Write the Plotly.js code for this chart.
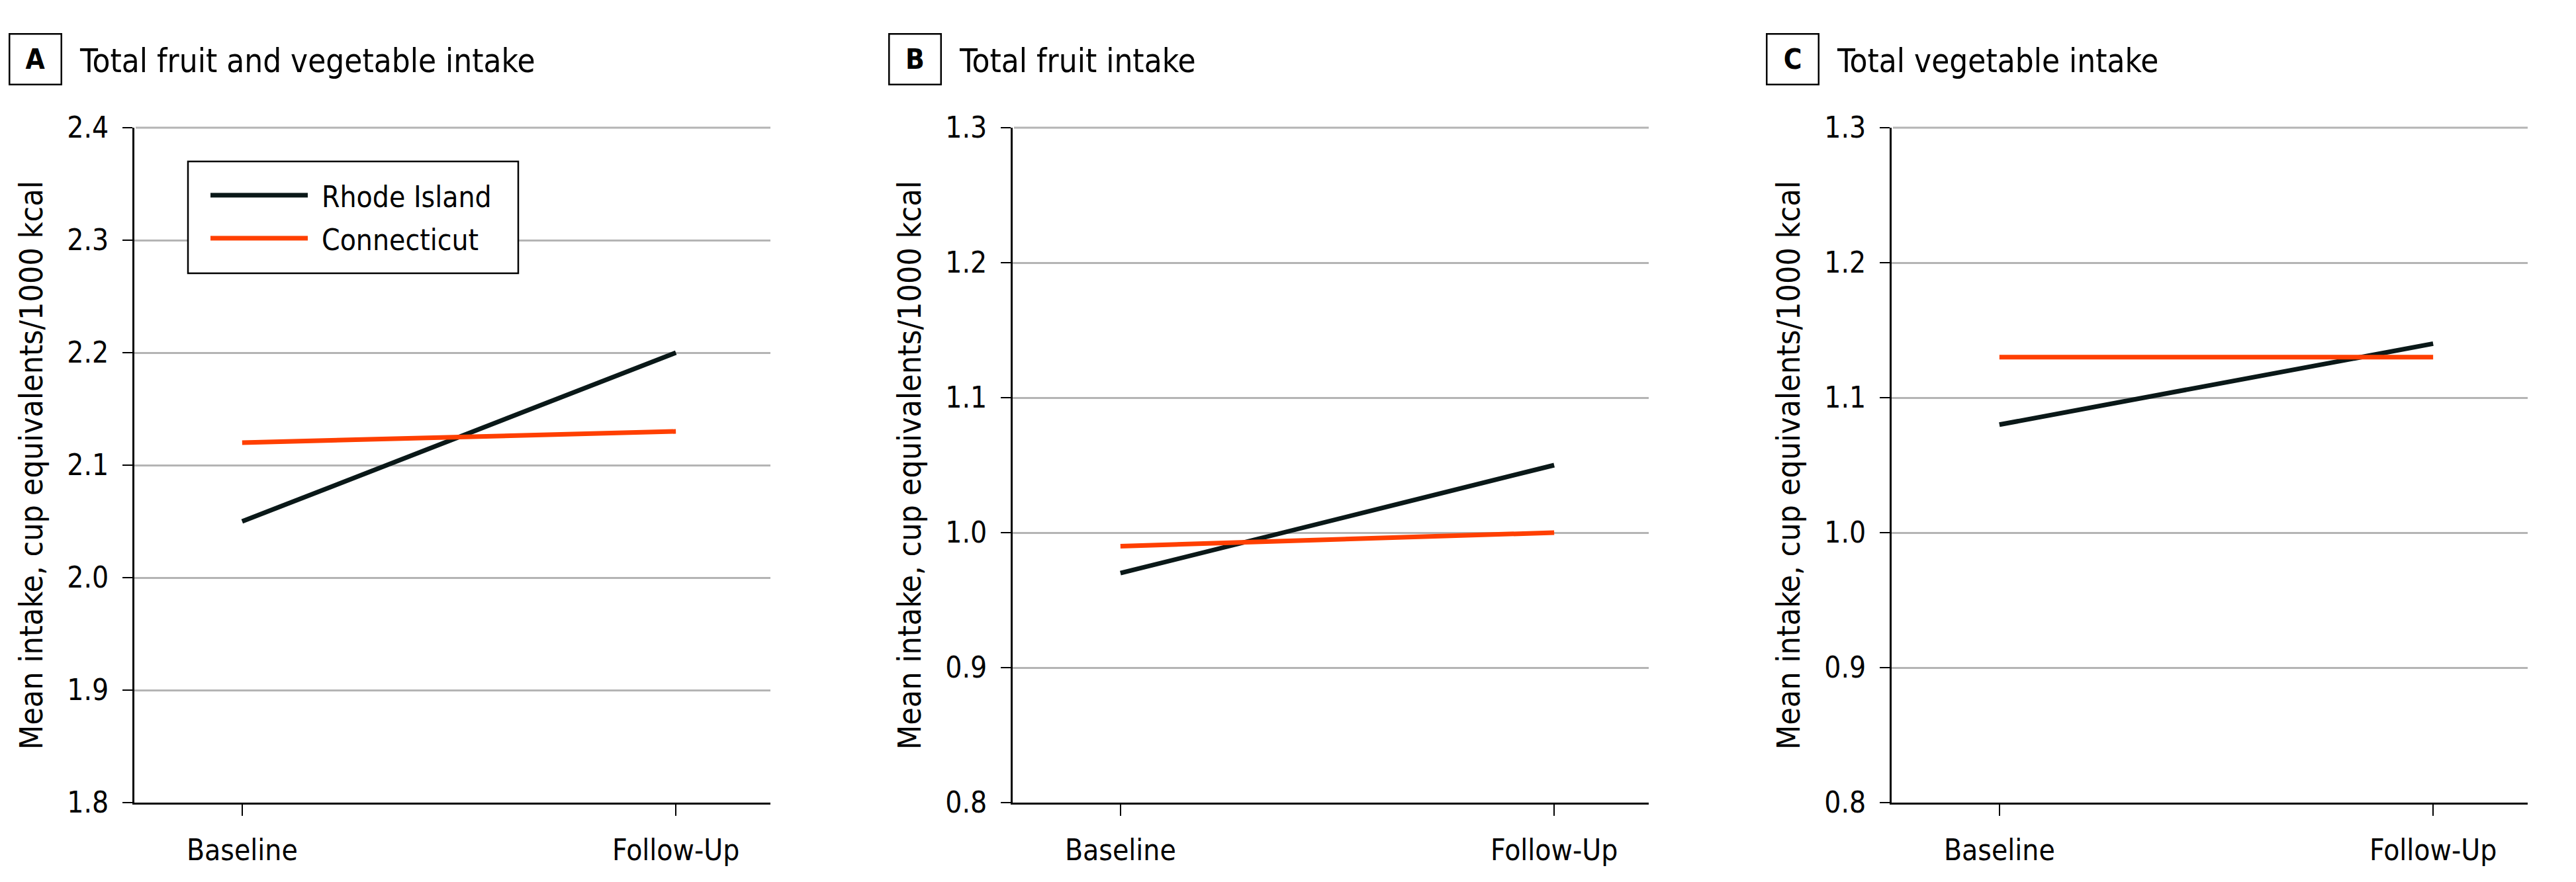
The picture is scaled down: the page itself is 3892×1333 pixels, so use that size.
<!DOCTYPE html>
<html>
<head>
<meta charset="utf-8">
<script src="https://cdn.plot.ly/plotly-3.0.1.min.js"></script>
<style>
  html, body { margin: 0; padding: 0; background: #ffffff; }
  #chart { width: 3892px; height: 1333px; }
</style>
</head>
<body>
<div id="chart"></div>
<script>
// Time points on the x axis
const categories = ['Baseline', 'Follow-Up'];

// Series names
const seriesNames = ['Rhode Island', 'Connecticut'];

// Panel letters and titles
const panelLetters = ['A', 'B', 'C'];
const panelTitles = ['Total fruit and vegetable intake', 'Total fruit intake', 'Total vegetable intake'];

// Mean intake, cup equivalents/1000 kcal
const riTotal = [2.05, 2.20];
const ctTotal = [2.12, 2.13];
const riFruit = [0.97, 1.05];
const ctFruit = [0.99, 1.00];
const riVeg = [1.08, 1.14];
const ctVeg = [1.13, 1.13];

// Y tick values for each panel
const totalTicks = [1.8, 1.9, 2.0, 2.1, 2.2, 2.3, 2.4];
const fruitTicks = [0.8, 0.9, 1.0, 1.1, 1.2, 1.3];
const vegTicks = [0.8, 0.9, 1.0, 1.1, 1.2, 1.3];

const yTitle = 'Mean intake, cup equivalents/1000 kcal';

// ---- styling ----
const W = 3892, H = 1333;
const FONT = '"DejaVu Sans Condensed", "DejaVu Sans", sans-serif';
const RI_COLOR = '#0a1818';
const CT_COLOR = '#ff3f00';
const GRID = '#b4b4b4';

const px = x => x / W;
const py = y => 1 - y / H;

// plot-area pixel boxes for each panel
const plotLeft = [203, 1530, 2858];
const plotWidth = 961;
const plotTop = 193, plotBottom = 1213;

const riData = [riTotal, riFruit, riVeg];
const ctData = [ctTotal, ctFruit, ctVeg];
const tickSets = [totalTicks, fruitTicks, vegTicks];

const traces = [];
const layout = {
  width: W, height: H,
  margin: {l: 0, r: 0, t: 0, b: 0},
  paper_bgcolor: '#ffffff',
  plot_bgcolor: '#ffffff',
  showlegend: false,
  font: {family: FONT, size: 44, color: '#000000'},
  annotations: [],
  shapes: []
};

for (let i = 0; i < 3; i++) {
  const s = i === 0 ? '' : String(i + 1);
  const xa = 'x' + s, ya = 'y' + s;

  traces.push({
    x: categories, y: riData[i], xaxis: xa, yaxis: ya,
    type: 'scatter', mode: 'lines', name: seriesNames[0],
    line: {color: RI_COLOR, width: 7}, hoverinfo: 'x+y+name'
  });
  traces.push({
    x: categories, y: ctData[i], xaxis: xa, yaxis: ya,
    type: 'scatter', mode: 'lines', name: seriesNames[1],
    line: {color: CT_COLOR, width: 7}, hoverinfo: 'x+y+name'
  });

  const ticks = tickSets[i];
  layout['xaxis' + s] = {
    domain: [px(plotLeft[i]), px(plotLeft[i] + plotWidth)],
    anchor: ya,
    type: 'category',
    range: [-0.2485, 1.218],
    showgrid: false, zeroline: false,
    showline: true, linecolor: '#000000', linewidth: 3,
    ticks: 'outside', ticklen: 17, tickwidth: 2, tickcolor: '#000000',
    ticklabelstandoff: 14,
    tickfont: {family: FONT, size: 44, color: '#000000'},
    fixedrange: true
  };
  layout['yaxis' + s] = {
    domain: [py(plotBottom), py(plotTop)],
    anchor: xa,
    range: [ticks[0], ticks[ticks.length - 1]],
    tickvals: ticks,
    tickformat: '.1f',
    showgrid: true, gridcolor: GRID, gridwidth: 3,
    zeroline: false,
    showline: true, linecolor: '#000000', linewidth: 3,
    ticks: 'outside', ticklen: 15, tickwidth: 2, tickcolor: '#000000',
    ticklabelstandoff: 12,
    tickfont: {family: FONT, size: 44, color: '#000000'},
    fixedrange: true
  };

  // gridline along the top edge of each plot area
  layout.shapes.push({
    type: 'line', xref: 'paper', yref: 'paper',
    x0: px(plotLeft[i] + 2), x1: px(plotLeft[i] + plotWidth), y0: py(plotTop), y1: py(plotTop),
    line: {color: GRID, width: 3}, layer: 'above'
  });

  // rotated y-axis title
  layout.annotations.push({
    xref: 'paper', yref: 'paper',
    x: px(plotLeft[i] - 156), y: py((plotTop + plotBottom) / 2),
    xanchor: 'center', yanchor: 'middle',
    text: yTitle, textangle: -90, showarrow: false,
    font: {family: FONT, size: 48, color: '#000000'}
  });

  // boxed panel letter
  const boxLeft = [16, 1345, 2671][i];
  layout.annotations.push({
    xref: 'paper', yref: 'paper',
    x: px(boxLeft + 37), y: py(89),
    xanchor: 'center', yanchor: 'middle',
    text: '<b>' + panelLetters[i] + '</b>', showarrow: false,
    width: 76, height: 74, borderpad: 0,
    bordercolor: '#000000', borderwidth: 2.5,
    font: {family: FONT, size: 42, color: '#000000'}
  });

  // panel title
  layout.annotations.push({
    xref: 'paper', yref: 'paper',
    x: px(boxLeft + 102), y: py(92),
    xanchor: 'left', yanchor: 'middle',
    text: panelTitles[i], showarrow: false,
    font: {family: FONT, size: 49, color: '#000000'}
  });
}

// legend box drawn in panel A
const legLeft = 284, legRight = 783, legTop = 244, legBottom = 413;
layout.shapes.push({
  type: 'rect', xref: 'paper', yref: 'paper',
  x0: px(legLeft), x1: px(legRight), y0: py(legBottom), y1: py(legTop),
  line: {color: '#000000', width: 2.5}, fillcolor: '#ffffff', layer: 'above'
});
const legendRows = [295, 360];
const legendColors = [RI_COLOR, CT_COLOR];
for (let k = 0; k < 2; k++) {
  layout.shapes.push({
    type: 'line', xref: 'paper', yref: 'paper',
    x0: px(318), x1: px(465), y0: py(legendRows[k]), y1: py(legendRows[k]),
    line: {color: legendColors[k], width: 7}, layer: 'above'
  });
  layout.annotations.push({
    xref: 'paper', yref: 'paper',
    x: px(484), y: py(legendRows[k] + 2),
    xanchor: 'left', yanchor: 'middle',
    text: seriesNames[k], showarrow: false,
    font: {family: FONT, size: 44, color: '#000000'}
  });
}

Plotly.newPlot('chart', traces, layout, {displayModeBar: false, staticPlot: true});
</script>
</body>
</html>
